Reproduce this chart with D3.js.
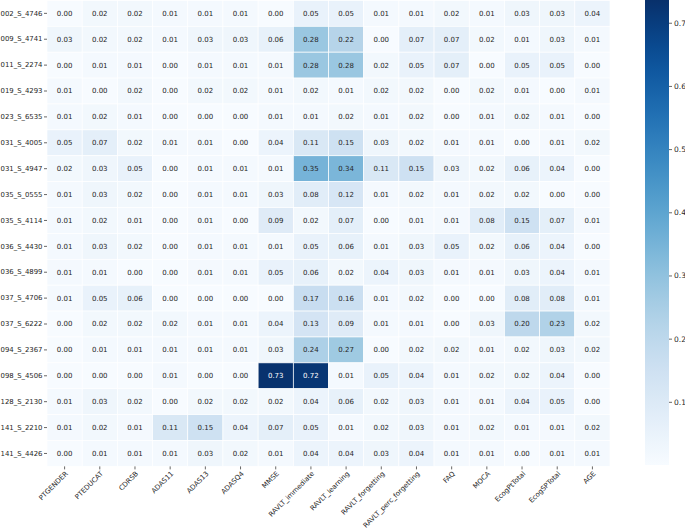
<!DOCTYPE html>
<meta charset="utf-8">
<title>heatmap</title>
<script src="https://d3js.org/d3.v7.min.js"></script>
<style>
  body { margin: 0; background: #fff; }
  text { font-family: "DejaVu Sans", sans-serif; }
</style>
<div id="chart"></div>
<script>

    // features along the bottom
    var features = ["PTGENDER", "PTEDUCAT", "CDRSB", "ADAS11", "ADAS13", "ADASQ4", "MMSE",
        "RAVLT_immediate", "RAVLT_learning", "RAVLT_forgetting", "RAVLT_perc_forgetting",
        "FAQ", "MOCA", "EcogPtTotal", "EcogSPTotal", "AGE"];

    // subjects down the side
    var subjects = ["002_S_4746", "009_S_4741", "011_S_2274", "019_S_4293", "023_S_6535",
        "031_S_4005", "031_S_4947", "035_S_0555", "035_S_4114", "036_S_4430", "036_S_4899",
        "037_S_4706", "037_S_6222", "094_S_2367", "098_S_4506", "128_S_2130", "141_S_2210",
        "141_S_4426"];

    // one row per subject
    var values = [
        [0.00, 0.02, 0.02, 0.01, 0.01, 0.01, 0.00, 0.05, 0.05, 0.01, 0.01, 0.02, 0.01, 0.03, 0.03, 0.04],
        [0.03, 0.02, 0.02, 0.01, 0.03, 0.03, 0.06, 0.28, 0.22, 0.00, 0.07, 0.07, 0.02, 0.01, 0.03, 0.01],
        [0.00, 0.01, 0.01, 0.00, 0.01, 0.01, 0.01, 0.28, 0.28, 0.02, 0.05, 0.07, 0.00, 0.05, 0.05, 0.00],
        [0.01, 0.00, 0.02, 0.00, 0.02, 0.02, 0.01, 0.02, 0.01, 0.02, 0.02, 0.00, 0.02, 0.01, 0.00, 0.01],
        [0.01, 0.02, 0.01, 0.00, 0.00, 0.00, 0.01, 0.01, 0.02, 0.01, 0.02, 0.00, 0.01, 0.02, 0.01, 0.00],
        [0.05, 0.07, 0.02, 0.01, 0.01, 0.00, 0.04, 0.11, 0.15, 0.03, 0.02, 0.01, 0.01, 0.00, 0.01, 0.02],
        [0.02, 0.03, 0.05, 0.00, 0.01, 0.01, 0.01, 0.35, 0.34, 0.11, 0.15, 0.03, 0.02, 0.06, 0.04, 0.00],
        [0.01, 0.03, 0.02, 0.00, 0.01, 0.01, 0.03, 0.08, 0.12, 0.01, 0.02, 0.01, 0.02, 0.02, 0.00, 0.00],
        [0.01, 0.02, 0.01, 0.00, 0.01, 0.00, 0.09, 0.02, 0.07, 0.00, 0.01, 0.01, 0.08, 0.15, 0.07, 0.01],
        [0.01, 0.03, 0.02, 0.00, 0.01, 0.01, 0.01, 0.05, 0.06, 0.01, 0.03, 0.05, 0.02, 0.06, 0.04, 0.00],
        [0.01, 0.01, 0.00, 0.00, 0.01, 0.01, 0.05, 0.06, 0.02, 0.04, 0.03, 0.01, 0.01, 0.03, 0.04, 0.01],
        [0.01, 0.05, 0.06, 0.00, 0.00, 0.00, 0.00, 0.17, 0.16, 0.01, 0.02, 0.00, 0.00, 0.08, 0.08, 0.01],
        [0.00, 0.02, 0.02, 0.02, 0.01, 0.01, 0.04, 0.13, 0.09, 0.01, 0.01, 0.00, 0.03, 0.20, 0.23, 0.02],
        [0.00, 0.01, 0.01, 0.01, 0.01, 0.01, 0.03, 0.24, 0.27, 0.00, 0.02, 0.02, 0.01, 0.02, 0.03, 0.02],
        [0.00, 0.00, 0.00, 0.01, 0.00, 0.00, 0.73, 0.72, 0.01, 0.05, 0.04, 0.01, 0.02, 0.02, 0.04, 0.00],
        [0.01, 0.03, 0.02, 0.00, 0.02, 0.02, 0.02, 0.04, 0.06, 0.02, 0.03, 0.01, 0.01, 0.04, 0.05, 0.00],
        [0.01, 0.02, 0.01, 0.11, 0.15, 0.04, 0.07, 0.05, 0.01, 0.02, 0.03, 0.01, 0.02, 0.01, 0.01, 0.02],
        [0.00, 0.01, 0.01, 0.01, 0.03, 0.02, 0.01, 0.04, 0.04, 0.03, 0.04, 0.01, 0.01, 0.00, 0.01, 0.01]
    ];

    var colorbarTicks = [0.1, 0.2, 0.3, 0.4, 0.5, 0.6, 0.7];
    var vmin = 0, vmax = 0.736;

    var W = 685, H = 530;
    var margin = {top: 0.4, left: 47};
    var width = 563, height = 466;

    var svg = d3.select("#chart")
      .append("svg")
        .attr("width", W)
        .attr("height", H);

    var g = svg.append("g")
        .attr("transform", "translate(" + margin.left + "," + margin.top + ")");

    var x = d3.scaleBand().domain(features).range([0, width]);
    var y = d3.scaleBand().domain(subjects).range([0, height]);
    var color = d3.scaleSequential(d3.interpolateBlues).domain([vmin, vmax]);

    // flatten into cells
    var cells = [];
    values.forEach(function(row, i) {
        row.forEach(function(v, j) {
            cells.push({s: subjects[i], f: features[j], v: v});
        });
    });

    g.selectAll("rect.cell")
      .data(cells)
      .enter()
      .append("rect")
        .attr("class", "cell")
        .attr("x", function(d) { return x(d.f); })
        .attr("y", function(d) { return y(d.s); })
        .attr("width", x.bandwidth())
        .attr("height", y.bandwidth())
        .attr("fill", function(d) { return color(d.v); })
        .attr("stroke", "#fff")
        .attr("stroke-width", 0.7);

    // annotations, white on dark cells like seaborn does
    g.selectAll("text.annot")
      .data(cells)
      .enter()
      .append("text")
        .attr("class", "annot")
        .attr("x", function(d) { return x(d.f) + x.bandwidth() / 2; })
        .attr("y", function(d) { return y(d.s) + y.bandwidth() / 2; })
        .attr("dy", "0.35em")
        .attr("text-anchor", "middle")
        .attr("font-size", 7)
        .attr("fill", function(d) {
            var c = d3.rgb(color(d.v));
            var lum = 0.2126 * c.r / 255 + 0.7152 * c.g / 255 + 0.0722 * c.b / 255;
            return lum < 0.408 ? "#fff" : "#262626";
        })
        .text(function(d) { return d.v.toFixed(2); });

    // y axis
    var yAxis = g.append("g")
        .call(d3.axisLeft(y).tickSize(3).tickPadding(1.5));
    yAxis.select(".domain").remove();
    yAxis.selectAll("text").attr("font-size", 6.9).attr("fill", "#262626")
        .style("font-family", "DejaVu Sans");
    yAxis.selectAll("line").attr("stroke", "#262626").attr("stroke-width", 0.7);

    // x axis with rotated labels
    var xAxis = g.append("g")
        .attr("transform", "translate(0," + height + ")")
        .call(d3.axisBottom(x).tickSize(3).tickPadding(2));
    xAxis.select(".domain").remove();
    xAxis.selectAll("line").attr("stroke", "#262626").attr("stroke-width", 0.7);
    xAxis.selectAll("text")
        .attr("font-size", 6.9)
        .attr("fill", "#262626")
        .style("font-family", "DejaVu Sans")
        .attr("text-anchor", "end")
        .attr("dy", "0.35em")
        .attr("y", 0)
        .attr("transform", "translate(2,6) rotate(-45)");

    // colorbar
    var cbX = 645, cbW = 24, cbTop = 0, cbBottom = 465;
    var cbScale = d3.scaleLinear().domain([vmin, vmax]).range([cbBottom, cbTop]);

    var defs = svg.append("defs");
    var grad = defs.append("linearGradient")
        .attr("id", "cbgrad")
        .attr("x1", "0").attr("y1", "1").attr("x2", "0").attr("y2", "0");
    d3.range(0, 1.0001, 0.05).forEach(function(t) {
        grad.append("stop")
            .attr("offset", t)
            .attr("stop-color", color(vmin + t * (vmax - vmin)));
    });

    svg.append("rect")
        .attr("x", cbX)
        .attr("y", cbTop)
        .attr("width", cbW)
        .attr("height", cbBottom - cbTop)
        .attr("fill", "url(#cbgrad)");

    var cbAxis = svg.append("g")
        .attr("transform", "translate(" + (cbX + cbW) + ",0)")
        .call(d3.axisRight(cbScale).tickValues(colorbarTicks).tickSize(3).tickPadding(2)
            .tickFormat(d3.format(".1f")));
    cbAxis.select(".domain").remove();
    cbAxis.selectAll("line").attr("stroke", "#262626").attr("stroke-width", 0.7);
    cbAxis.selectAll("text").attr("font-size", 7.5).attr("fill", "#262626")
        .style("font-family", "DejaVu Sans");

</script>
